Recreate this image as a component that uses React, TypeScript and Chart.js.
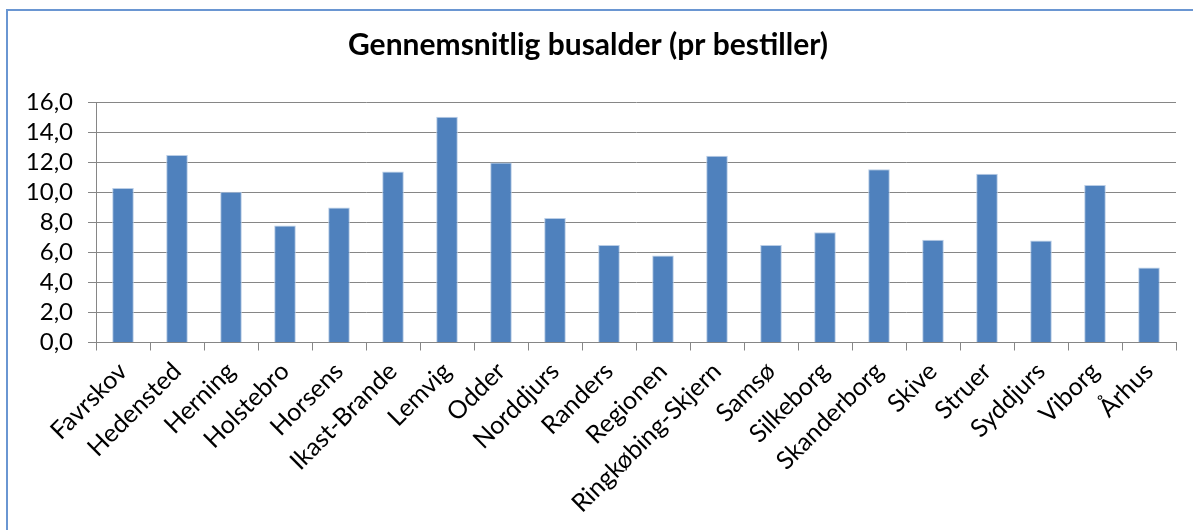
import React, { useEffect, useRef } from "react";
import { Chart, registerables } from "chart.js";

Chart.register(...registerables);

const chartTitle = "Gennemsnitlig busalder (pr bestiller)";
const categories = [
  "Favrskov", "Hedensted", "Herning", "Holstebro", "Horsens", "Ikast-Brande",
  "Lemvig", "Odder", "Norddjurs", "Randers", "Regionen", "Ringkøbing-Skjern",
  "Samsø", "Silkeborg", "Skanderborg", "Skive", "Struer", "Syddjurs", "Viborg", "Århus",
];
const busAge = [
  10.3, 12.5, 10.05, 7.8, 9.0, 11.4,
  15.05, 12.0, 8.3, 6.5, 5.8, 12.45,
  6.5, 7.35, 11.55, 6.85, 11.25, 6.8, 10.5, 5.0,
];
const yTickValues = [0, 2, 4, 6, 8, 10, 12, 14, 16];

const W = 1193;
const H = 530;
const FONT = "Lato, 'Open Sans', sans-serif";

export default function App() {
  const ref = useRef<HTMLCanvasElement | null>(null);

  useEffect(() => {
    if (!ref.current) return;
    const chart = new Chart(ref.current, {
      type: "bar",
      data: {
        labels: categories,
        datasets: [
          {
            data: busAge,
            backgroundColor: "#4F81BD",
            borderColor: "#B9CDE6",
            borderWidth: 1,
            barPercentage: 0.4,
            categoryPercentage: 1,
          },
        ],
      },
      options: {
        animation: false,
        responsive: false,
        devicePixelRatio: 1,
        layout: { padding: { left: 0, right: 17, top: 0, bottom: 0 } },
        plugins: {
          legend: { display: false },
          tooltip: { enabled: false },
          title: {
            display: true,
            text: chartTitle,
            color: "#000",
            font: { family: FONT, size: 30, weight: "bold", lineHeight: 1.2 },
            padding: { top: 27, bottom: 39.5 },
          },
        },
        scales: {
          x: {
            offset: true,
            grid: {
              offset: true,
              drawOnChartArea: false,
              drawTicks: true,
              tickLength: 8,
              color: "#868686",
              lineWidth: 1,
            },
            border: { display: true, color: "#868686", width: 1 },
            ticks: {
              autoSkip: false,
              maxRotation: 45,
              minRotation: 45,
              padding: 6,
              color: "#000",
              font: { family: FONT, size: 25 },
            },
            afterFit: (scale: any) => {
              scale.height = H - 342.5;
            },
          },
          y: {
            min: yTickValues[0],
            max: yTickValues[yTickValues.length - 1],
            afterBuildTicks: (scale: any) => {
              scale.ticks = yTickValues.map((v) => ({ value: v }));
            },
            grid: {
              color: "#868686",
              lineWidth: 1,
              drawTicks: true,
              tickLength: 8,
            },
            border: { display: true, color: "#868686", width: 1 },
            ticks: {
              autoSkip: false,
              padding: 15,
              color: "#000",
              font: { family: FONT, size: 24 },
              callback: (v: any) => Number(v).toFixed(1).replace(".", ","),
            },
            afterFit: (scale: any) => {
              scale.width = 96;
            },
          },
        },
      },
    });
    return () => chart.destroy();
  }, []);

  return (
    <div
      style={{
        position: "fixed",
        left: 0,
        top: 0,
        width: W,
        height: H,
        background: "#fff",
        overflow: "hidden",
      }}
    >
      <div
        style={{
          position: "absolute",
          left: 6,
          top: 9,
          width: W + 20,
          height: H + 20,
          border: "2px solid #6A96D2",
          boxSizing: "border-box",
        }}
      />
      <canvas
        ref={ref}
        width={W}
        height={H}
        style={{ position: "absolute", left: 0, top: 0, width: W, height: H }}
      />
    </div>
  );
}
